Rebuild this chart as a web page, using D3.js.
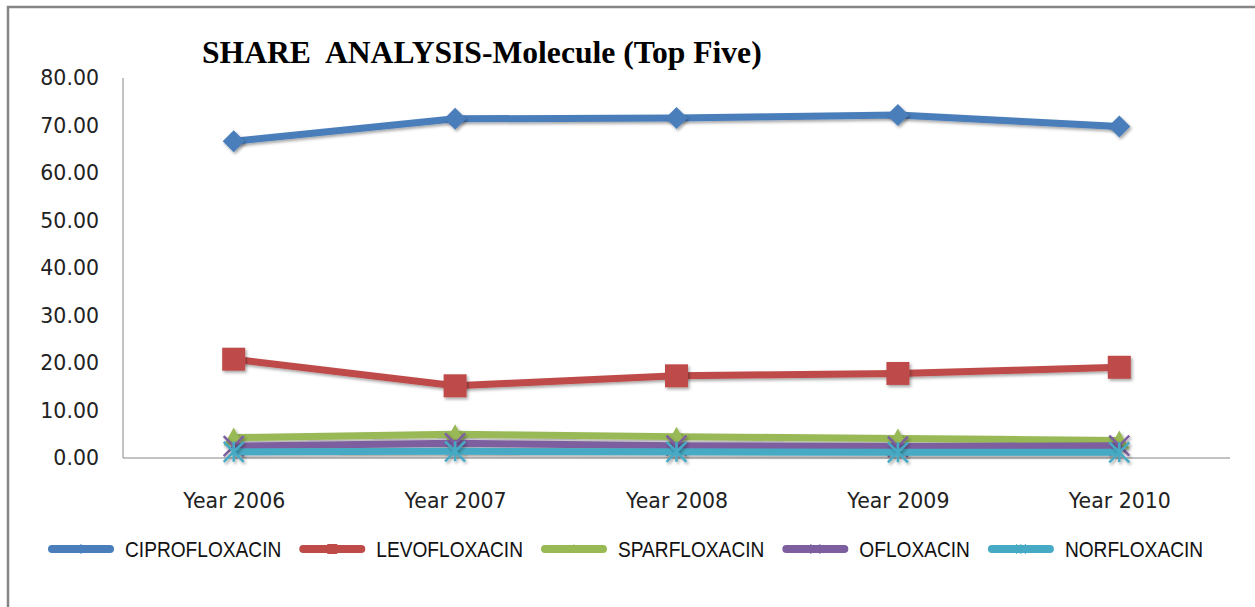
<!DOCTYPE html>
<html>
<head>
<meta charset="utf-8">
<script src="https://cdn.jsdelivr.net/npm/d3@7"></script>
<style>
  html, body { margin: 0; padding: 0; background: #fff; }
  svg { display: block; }
</style>
</head>
<body>
<div id="vis"></div>
<script>
// chart data
var years = ['Year 2006', 'Year 2007', 'Year 2008', 'Year 2009', 'Year 2010'];
var seriesNames = ['CIPROFLOXACIN', 'LEVOFLOXACIN', 'SPARFLOXACIN', 'OFLOXACIN', 'NORFLOXACIN'];
var cipro = [66.7, 71.4, 71.6, 72.2, 69.8];
var levo = [20.8, 15.2, 17.3, 17.8, 19.1];
var sparf = [4.3, 5.0, 4.5, 4.1, 3.7];
var oflox = [2.5, 3.1, 2.6, 2.4, 2.6];
var norf = [1.3, 1.4, 1.3, 1.2, 1.2];
var yTicks = [0, 10, 20, 30, 40, 50, 60, 70, 80];

var colors = ['#4a7ebb', '#be4b48', '#98b954', '#7d5fa0', '#46aac5'];
var markers = ['diamond', 'square', 'triangle', 'x', 'star'];
var seriesValues = [cipro, levo, sparf, oflox, norf];

var width = 1255;
var height = 607;
var margin = { top: 78, right: 25, bottom: 149, left: 123 };
var drawWidth = width - margin.left - margin.right;
var drawHeight = height - margin.top - margin.bottom;

var svg = d3.select('#vis')
    .append('svg')
    .attr('width', width)
    .attr('height', height);

// soft shadow like the office chart (user space region so flat lines are not clipped)
var defs = svg.append('defs');
var filt = defs.append('filter').attr('id', 'shadow')
    .attr('filterUnits', 'userSpaceOnUse')
    .attr('x', -200).attr('y', -200).attr('width', width + 400).attr('height', height + 400);
filt.append('feDropShadow').attr('dx', 1.5).attr('dy', 2).attr('stdDeviation', 1.5)
    .attr('flood-color', '#000').attr('flood-opacity', 0.35);

// outer frame (only top and left edges are in view)
svg.append('rect')
    .attr('x', 8).attr('y', 7)
    .attr('width', width + 20).attr('height', height + 20)
    .attr('fill', 'none').attr('stroke', '#868686').attr('stroke-width', 2.5);

var g = svg.append('g')
    .attr('transform', 'translate(' + margin.left + ',' + margin.top + ')');

var xScale = d3.scalePoint()
    .domain(years)
    .range([0, drawWidth])
    .padding(0.5);

var yScale = d3.scaleLinear()
    .domain([0, 80])
    .range([drawHeight, 0]);

// axes lines
g.append('line')
    .attr('x1', 0).attr('x2', 0).attr('y1', 0).attr('y2', drawHeight)
    .attr('stroke', '#868686').attr('stroke-width', 1);
g.append('line')
    .attr('x1', 0).attr('x2', drawWidth).attr('y1', drawHeight).attr('y2', drawHeight)
    .attr('stroke', '#868686').attr('stroke-width', 1);

var yAxis = d3.axisLeft(yScale)
    .tickValues(yTicks)
    .tickFormat(d3.format('.2f'))
    .tickSize(0)
    .tickPadding(24);
var yAxisG = g.append('g').call(yAxis);
yAxisG.select('.domain').remove();
yAxisG.selectAll('text')
    .attr('font-family', 'DejaVu Sans, sans-serif')
    .attr('font-size', 20.5)
    .attr('fill', '#222');

var xAxis = d3.axisBottom(xScale).tickSize(0).tickPadding(35);
var xAxisG = g.append('g')
    .attr('transform', 'translate(0,' + drawHeight + ')')
    .call(xAxis);
xAxisG.select('.domain').remove();
xAxisG.selectAll('text')
    .attr('font-family', 'DejaVu Sans, sans-serif')
    .attr('font-size', 20.5)
    .attr('fill', '#222');

// title
var title = svg.append('text')
    .attr('x', 202).attr('y', 63)
    .attr('font-family', 'Liberation Serif, DejaVu Serif, serif')
    .attr('font-weight', 'bold')
    .attr('font-size', 30)
    .attr('fill', '#000')
    .attr('xml:space', 'preserve')
    .text('SHARE  ANALYSIS-Molecule (Top Five)');
var tw = title.node().getComputedTextLength();
title.attr('font-size', 30 * 560 / tw);

function markerPath(type, size) {
    var s = size;
    if (type == 'diamond') {
        return 'M0,' + (-s) + 'L' + s + ',0L0,' + s + 'L' + (-s) + ',0Z';
    } else if (type == 'square') {
        return 'M' + (-s) + ',' + (-s) + 'H' + s + 'V' + s + 'H' + (-s) + 'Z';
    } else if (type == 'triangle') {
        return 'M0,' + (-s) + 'L' + s + ',' + (s * 0.8) + 'L' + (-s) + ',' + (s * 0.8) + 'Z';
    } else if (type == 'x') {
        return 'M' + (-s) + ',' + (-s) + 'L' + s + ',' + s + 'M' + s + ',' + (-s) + 'L' + (-s) + ',' + s;
    } else {
        return 'M' + (-s) + ',' + (-s) + 'L' + s + ',' + s + 'M' + s + ',' + (-s) + 'L' + (-s) + ',' + s +
            'M0,' + (-s) + 'V' + s;
    }
}
var markerSize = [11, 11.5, 10, 10, 10];

var line = d3.line()
    .x(function(d, i) { return xScale(years[i]); })
    .y(function(d) { return yScale(d); });

seriesValues.forEach(function(vals, k) {
    var sg = g.append('g').attr('class', 'series');
    sg.append('path')
        .datum(vals)
        .attr('d', line)
        .attr('fill', 'none')
        .attr('stroke', colors[k])
        .attr('stroke-width', 7)
        .attr('stroke-linejoin', 'round')
        .attr('filter', 'url(#shadow)');
    var open = markers[k] == 'x' || markers[k] == 'star';
    sg.selectAll('path.mk')
        .data(vals)
        .enter().append('path')
        .attr('class', 'mk')
        .attr('transform', function(d, i) {
            return 'translate(' + xScale(years[i]) + ',' + yScale(d) + ')';
        })
        .attr('d', markerPath(markers[k], markerSize[k]))
        .attr('fill', open ? 'none' : colors[k])
        .attr('stroke', colors[k])
        .attr('stroke-width', open ? 2.5 : 0)
        .attr('filter', 'url(#shadow)');
});

// legend (narrow face squeezed horizontally)
var legend = svg.append('g').attr('transform', 'translate(0,549)');
var lx = 52;
var squeeze = 0.87;
seriesNames.forEach(function(name, k) {
    var item = legend.append('g').attr('transform', 'translate(' + lx + ',0)');
    item.append('line')
        .attr('x1', 0).attr('x2', 58).attr('y1', 0).attr('y2', 0)
        .attr('stroke', colors[k]).attr('stroke-width', 8)
        .attr('stroke-linecap', 'round');
    var open = markers[k] == 'x' || markers[k] == 'star';
    item.append('path')
        .attr('transform', 'translate(29,0)')
        .attr('d', markerPath(markers[k], 5))
        .attr('fill', open ? 'none' : colors[k])
        .attr('stroke', colors[k])
        .attr('stroke-width', open ? 1 : 0);
    var t = item.append('text')
        .attr('transform', 'translate(73,8) scale(' + squeeze + ',1)')
        .attr('font-family', 'Liberation Sans, Arial, sans-serif')
        .attr('font-size', 22)
        .attr('fill', '#111')
        .text(name);
    lx += 73 + t.node().getComputedTextLength() * squeeze + 22;
});
</script>
</body>
</html>
